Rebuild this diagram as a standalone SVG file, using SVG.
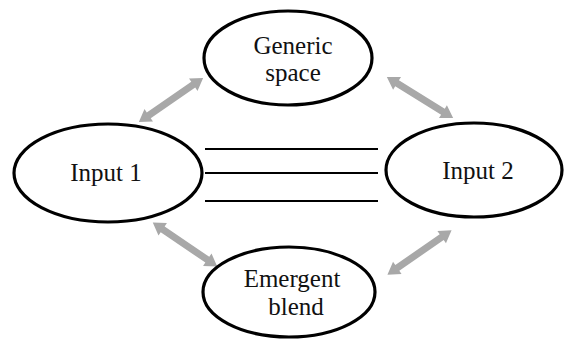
<svg xmlns="http://www.w3.org/2000/svg" xmlns:xlink="http://www.w3.org/1999/xlink" width="565" height="341" viewBox="0 0 565 341">
<style>
.node ellipse{fill:#fff;stroke:#000;stroke-width:3.2}
.node text{font-family:"Liberation Serif","Times New Roman",serif;font-size:25px;fill:#111;text-anchor:middle}
.line{stroke:#000;stroke-width:2}
.darr{fill:#a8a8a8}
</style>
<defs>
<path id="dbl" d="M-39,0 L-27,-7.5 L-27,-3.5 L27,-3.5 L27,-7.5 L39,0 L27,7.5 L27,3.5 L-27,3.5 L-27,7.5 Z"/>
</defs>
<rect width="565" height="341" fill="#fff"/>
<g id="connectors">
<use xlink:href="#dbl" class="darr" transform="translate(171,100) rotate(-34.5)"/>
<use xlink:href="#dbl" class="darr" transform="translate(420,97.5) rotate(31.8)"/>
<use xlink:href="#dbl" class="darr" transform="translate(185,244.5) rotate(34.3)"/>
<use xlink:href="#dbl" class="darr" transform="translate(419.5,252.5) rotate(-34.7)"/>
<line class="line" x1="205" y1="149" x2="378" y2="149"/>
<line class="line" x1="205" y1="173" x2="378" y2="173"/>
<line class="line" x1="205" y1="201" x2="378" y2="201"/>
</g>
<g id="generic" class="node">
<ellipse cx="288" cy="58" rx="84" ry="47"/>
<text x="293" y="54">Generic</text>
<text x="293" y="81">space</text>
</g>
<g id="input1" class="node">
<ellipse cx="108" cy="173" rx="94" ry="49"/>
<text x="106" y="181">Input 1</text>
</g>
<g id="input2" class="node">
<ellipse cx="474" cy="170" rx="88" ry="47"/>
<text x="478" y="179">Input 2</text>
</g>
<g id="emergent" class="node">
<ellipse cx="289" cy="292" rx="86" ry="45"/>
<text x="292" y="287">Emergent</text>
<text x="296" y="315">blend</text>
</g>
</svg>
